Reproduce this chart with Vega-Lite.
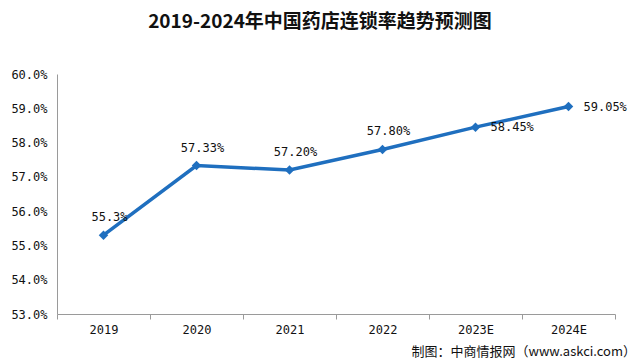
{
  "$schema": "https://vega.github.io/schema/vega-lite/v6.json",
  "autosize": {"type": "none"},
  "width": 558,
  "height": 240,
  "padding": {"left": 57, "top": 74, "right": 25, "bottom": 49},
  "background": "white",
  "config": {"view": {"stroke": null}},
  "title": {
    "text": "2019-2024年中国药店连锁率趋势预测图",
    "font": "Noto Sans CJK SC",
    "fontSize": 19,
    "fontWeight": "bold",
    "color": "#111111",
    "anchor": "middle",
    "dx": -16,
    "offset": 36
  },
  "data": {
    "values": [
      {"year": "2019", "rate": 55.3, "label": "55.3%"},
      {"year": "2020", "rate": 57.33, "label": "57.33%"},
      {"year": "2021", "rate": 57.2, "label": "57.20%"},
      {"year": "2022", "rate": 57.8, "label": "57.80%"},
      {"year": "2023E", "rate": 58.45, "label": "58.45%"},
      {"year": "2024E", "rate": 59.05, "label": "59.05%"}
    ]
  },
  "encoding": {
    "x": {
      "field": "year",
      "type": "nominal",
      "sort": null,
      "scale": {"type": "band", "paddingInner": 0, "paddingOuter": 0},
      "axis": {
        "title": "制图：中商情报网（www.askci.com）",
        "titleFont": "Noto Sans CJK SC",
        "titleFontSize": 13,
        "titleFontWeight": "normal",
        "titleColor": "#111111",
        "titleAnchor": "start",
        "titleAlign": "left",
        "titleBaseline": "middle",
        "titleX": 354,
        "titleY": 37,
        "labelAngle": 0,
        "labelFont": "DejaVu Sans Mono",
        "labelFontSize": 12,
        "labelColor": "#111111",
        "labelPadding": 5,
        "domainColor": "#9a9a9a",
        "tickColor": "#9a9a9a",
        "tickSize": 5,
        "tickBand": "extent",
        "grid": false
      }
    },
    "y": {
      "field": "rate",
      "type": "quantitative",
      "scale": {"domain": [53, 60], "nice": false, "zero": false},
      "axis": {
        "title": null,
        "values": [53, 54, 55, 56, 57, 58, 59, 60],
        "labelExpr": "format(datum.value, '.1f') + '%'",
        "labelFont": "DejaVu Sans Mono",
        "labelFontSize": 12,
        "labelColor": "#111111",
        "labelPadding": 10,
        "ticks": false,
        "grid": false,
        "domainColor": "#9a9a9a"
      }
    }
  },
  "layer": [
    {
      "mark": {"type": "line", "color": "#1f6fbf", "strokeWidth": 3.5}
    },
    {
      "mark": {"type": "point", "shape": "diamond", "filled": true, "color": "#1f6fbf", "size": 90, "opacity": 1}
    },
    {
      "transform": [{"filter": "indexof(['2019','2020','2021','2022'], datum.year) >= 0"}],
      "mark": {"type": "text", "font": "DejaVu Sans Mono", "fontSize": 12, "color": "#111111", "dx": 6, "dy": -18, "baseline": "middle", "align": "center"},
      "encoding": {"text": {"field": "label"}}
    },
    {
      "transform": [{"filter": "indexof(['2023E','2024E'], datum.year) >= 0"}],
      "mark": {"type": "text", "font": "DejaVu Sans Mono", "fontSize": 12, "color": "#111111", "dx": 15, "dy": 0, "baseline": "middle", "align": "left"},
      "encoding": {"text": {"field": "label"}}
    }
  ]
}
